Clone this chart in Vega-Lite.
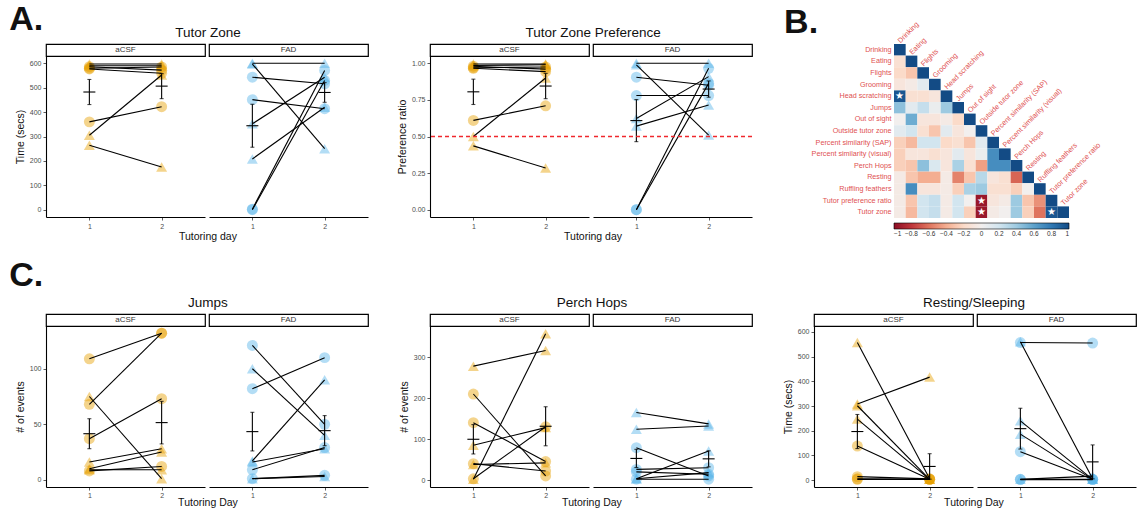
{
  "$schema": "https://vega.github.io/schema/vega-lite/v6.json",
  "padding": {"left": 9, "top": 2, "right": 0, "bottom": 0},
  "config": {
    "font": "Liberation Sans",
    "view": {"stroke": null},
    "axis": {"grid": false, "domainColor": "#000000", "domainWidth": 1.1, "tickColor": "#333333", "tickSize": 3, "tickWidth": 0.8, "labelFontSize": 7, "labelColor": "#4D4D4D", "labelPadding": 2, "titleFontSize": 10.5, "titleFontWeight": "normal", "titleColor": "#111111", "titlePadding": 4},
    "title": {"fontSize": 13.5, "fontWeight": "normal", "color": "#111111", "offset": 0},
    "rule": {"color": "#F0282D"}
  },
  "resolve": {"scale": {"color": "independent", "shape": "independent"}},
  "spacing": 15,
  "datasets": {
    "beh": [
      {"m":"TZ","g":"aCSF","s":"A1","k":"b","d":1,"v":597},{"m":"TZ","g":"aCSF","s":"A1","k":"b","d":2,"v":597},
      {"m":"TZ","g":"aCSF","s":"A2","k":"a","d":1,"v":586},{"m":"TZ","g":"aCSF","s":"A2","k":"a","d":2,"v":572},
      {"m":"TZ","g":"aCSF","s":"A3","k":"a","d":1,"v":577},{"m":"TZ","g":"aCSF","s":"A3","k":"a","d":2,"v":559},
      {"m":"TZ","g":"aCSF","s":"A4","k":"a","d":1,"v":360},{"m":"TZ","g":"aCSF","s":"A4","k":"a","d":2,"v":422},
      {"m":"TZ","g":"aCSF","s":"A5","k":"b","d":1,"v":305},{"m":"TZ","g":"aCSF","s":"A5","k":"b","d":2,"v":552},
      {"m":"TZ","g":"aCSF","s":"A6","k":"b","d":1,"v":264},{"m":"TZ","g":"aCSF","s":"A6","k":"b","d":2,"v":175},
      {"m":"TZ","g":"aCSF","s":"A7","k":"b","d":1,"v":590},{"m":"TZ","g":"aCSF","s":"A7","k":"b","d":2,"v":590},
      {"m":"TZ","g":"aCSF","s":"A8","k":"a","d":1,"v":580},{"m":"TZ","g":"aCSF","s":"A8","k":"a","d":2,"v":585},
      {"m":"TZ","g":"FAD","s":"F1","k":"b","d":1,"v":600},{"m":"TZ","g":"FAD","s":"F1","k":"b","d":2,"v":600},
      {"m":"TZ","g":"FAD","s":"F2","k":"b","d":1,"v":597},{"m":"TZ","g":"FAD","s":"F2","k":"b","d":2,"v":250},
      {"m":"TZ","g":"FAD","s":"F3","k":"a","d":1,"v":543},{"m":"TZ","g":"FAD","s":"F3","k":"a","d":2,"v":516},
      {"m":"TZ","g":"FAD","s":"F4","k":"a","d":1,"v":451},{"m":"TZ","g":"FAD","s":"F4","k":"a","d":2,"v":414},
      {"m":"TZ","g":"FAD","s":"F5","k":"b","d":1,"v":208},{"m":"TZ","g":"FAD","s":"F5","k":"b","d":2,"v":420},
      {"m":"TZ","g":"FAD","s":"F6","k":"a","d":1,"v":2},{"m":"TZ","g":"FAD","s":"F6","k":"a","d":2,"v":571},
      {"m":"TZ","g":"FAD","s":"F7","k":"a","d":1,"v":0},{"m":"TZ","g":"FAD","s":"F7","k":"a","d":2,"v":530},
      {"m":"TZ","g":"FAD","s":"F8","k":"b","d":1,"v":352},{"m":"TZ","g":"FAD","s":"F8","k":"b","d":2,"v":543},
      {"m":"PR","g":"aCSF","s":"A1","k":"b","d":1,"v":0.995},{"m":"PR","g":"aCSF","s":"A1","k":"b","d":2,"v":0.995},
      {"m":"PR","g":"aCSF","s":"A2","k":"a","d":1,"v":0.98},{"m":"PR","g":"aCSF","s":"A2","k":"a","d":2,"v":0.96},
      {"m":"PR","g":"aCSF","s":"A3","k":"a","d":1,"v":0.966},{"m":"PR","g":"aCSF","s":"A3","k":"a","d":2,"v":0.943},
      {"m":"PR","g":"aCSF","s":"A4","k":"a","d":1,"v":0.61},{"m":"PR","g":"aCSF","s":"A4","k":"a","d":2,"v":0.71},
      {"m":"PR","g":"aCSF","s":"A5","k":"b","d":1,"v":0.5},{"m":"PR","g":"aCSF","s":"A5","k":"b","d":2,"v":0.9},
      {"m":"PR","g":"aCSF","s":"A6","k":"b","d":1,"v":0.436},{"m":"PR","g":"aCSF","s":"A6","k":"b","d":2,"v":0.285},
      {"m":"PR","g":"aCSF","s":"A7","k":"b","d":1,"v":0.985},{"m":"PR","g":"aCSF","s":"A7","k":"b","d":2,"v":0.99},
      {"m":"PR","g":"aCSF","s":"A8","k":"a","d":1,"v":0.97},{"m":"PR","g":"aCSF","s":"A8","k":"a","d":2,"v":0.975},
      {"m":"PR","g":"FAD","s":"F1","k":"b","d":1,"v":1.0},{"m":"PR","g":"FAD","s":"F1","k":"b","d":2,"v":1.0},
      {"m":"PR","g":"FAD","s":"F2","k":"b","d":1,"v":0.99},{"m":"PR","g":"FAD","s":"F2","k":"b","d":2,"v":0.51},
      {"m":"PR","g":"FAD","s":"F3","k":"a","d":1,"v":0.905},{"m":"PR","g":"FAD","s":"F3","k":"a","d":2,"v":0.85},
      {"m":"PR","g":"FAD","s":"F4","k":"a","d":1,"v":0.78},{"m":"PR","g":"FAD","s":"F4","k":"a","d":2,"v":0.78},
      {"m":"PR","g":"FAD","s":"F5","k":"b","d":1,"v":0.571},{"m":"PR","g":"FAD","s":"F5","k":"b","d":2,"v":0.715},
      {"m":"PR","g":"FAD","s":"F6","k":"a","d":1,"v":0.0},{"m":"PR","g":"FAD","s":"F6","k":"a","d":2,"v":0.966},
      {"m":"PR","g":"FAD","s":"F7","k":"a","d":1,"v":0.0},{"m":"PR","g":"FAD","s":"F7","k":"a","d":2,"v":0.863},
      {"m":"PR","g":"FAD","s":"F8","k":"b","d":1,"v":0.623},{"m":"PR","g":"FAD","s":"F8","k":"b","d":2,"v":0.909},
      {"m":"JU","g":"aCSF","s":"A1","k":"a","d":1,"v":109},{"m":"JU","g":"aCSF","s":"A1","k":"a","d":2,"v":132},
      {"m":"JU","g":"aCSF","s":"A2","k":"b","d":1,"v":75},{"m":"JU","g":"aCSF","s":"A2","k":"b","d":2,"v":1},
      {"m":"JU","g":"aCSF","s":"A3","k":"a","d":1,"v":68},{"m":"JU","g":"aCSF","s":"A3","k":"a","d":2,"v":132},
      {"m":"JU","g":"aCSF","s":"A4","k":"a","d":1,"v":37},{"m":"JU","g":"aCSF","s":"A4","k":"a","d":2,"v":73},
      {"m":"JU","g":"aCSF","s":"A5","k":"b","d":1,"v":16},{"m":"JU","g":"aCSF","s":"A5","k":"b","d":2,"v":28},
      {"m":"JU","g":"aCSF","s":"A6","k":"b","d":1,"v":10},{"m":"JU","g":"aCSF","s":"A6","k":"b","d":2,"v":25},
      {"m":"JU","g":"aCSF","s":"A7","k":"a","d":1,"v":8},{"m":"JU","g":"aCSF","s":"A7","k":"a","d":2,"v":12},
      {"m":"JU","g":"aCSF","s":"A8","k":"b","d":1,"v":9},{"m":"JU","g":"aCSF","s":"A8","k":"b","d":2,"v":9},
      {"m":"JU","g":"FAD","s":"F1","k":"a","d":1,"v":121},{"m":"JU","g":"FAD","s":"F1","k":"a","d":2,"v":50},
      {"m":"JU","g":"FAD","s":"F2","k":"b","d":1,"v":100},{"m":"JU","g":"FAD","s":"F2","k":"b","d":2,"v":40},
      {"m":"JU","g":"FAD","s":"F3","k":"a","d":1,"v":82},{"m":"JU","g":"FAD","s":"F3","k":"a","d":2,"v":110},
      {"m":"JU","g":"FAD","s":"F4","k":"b","d":1,"v":17},{"m":"JU","g":"FAD","s":"F4","k":"b","d":2,"v":90},
      {"m":"JU","g":"FAD","s":"F5","k":"a","d":1,"v":9},{"m":"JU","g":"FAD","s":"F5","k":"a","d":2,"v":29},
      {"m":"JU","g":"FAD","s":"F6","k":"b","d":1,"v":16},{"m":"JU","g":"FAD","s":"F6","k":"b","d":2,"v":28},
      {"m":"JU","g":"FAD","s":"F7","k":"a","d":1,"v":1},{"m":"JU","g":"FAD","s":"F7","k":"a","d":2,"v":4},
      {"m":"JU","g":"FAD","s":"F8","k":"b","d":1,"v":1},{"m":"JU","g":"FAD","s":"F8","k":"b","d":2,"v":3},
      {"m":"PH","g":"aCSF","s":"A1","k":"b","d":1,"v":278},{"m":"PH","g":"aCSF","s":"A1","k":"b","d":2,"v":316},
      {"m":"PH","g":"aCSF","s":"A2","k":"a","d":1,"v":210},{"m":"PH","g":"aCSF","s":"A2","k":"a","d":2,"v":10},
      {"m":"PH","g":"aCSF","s":"A3","k":"b","d":1,"v":2},{"m":"PH","g":"aCSF","s":"A3","k":"b","d":2,"v":357},
      {"m":"PH","g":"aCSF","s":"A4","k":"b","d":1,"v":85},{"m":"PH","g":"aCSF","s":"A4","k":"b","d":2,"v":128},
      {"m":"PH","g":"aCSF","s":"A5","k":"a","d":1,"v":140},{"m":"PH","g":"aCSF","s":"A5","k":"a","d":2,"v":45},
      {"m":"PH","g":"aCSF","s":"A6","k":"a","d":1,"v":40},{"m":"PH","g":"aCSF","s":"A6","k":"a","d":2,"v":22},
      {"m":"PH","g":"aCSF","s":"A7","k":"a","d":1,"v":3},{"m":"PH","g":"aCSF","s":"A7","k":"a","d":2,"v":130},
      {"m":"PH","g":"aCSF","s":"A8","k":"b","d":1,"v":38},{"m":"PH","g":"aCSF","s":"A8","k":"b","d":2,"v":42},
      {"m":"PH","g":"FAD","s":"F1","k":"b","d":1,"v":165},{"m":"PH","g":"FAD","s":"F1","k":"b","d":2,"v":137},
      {"m":"PH","g":"FAD","s":"F2","k":"b","d":1,"v":124},{"m":"PH","g":"FAD","s":"F2","k":"b","d":2,"v":132},
      {"m":"PH","g":"FAD","s":"F3","k":"a","d":1,"v":79},{"m":"PH","g":"FAD","s":"F3","k":"a","d":2,"v":10},
      {"m":"PH","g":"FAD","s":"F4","k":"b","d":1,"v":3},{"m":"PH","g":"FAD","s":"F4","k":"b","d":2,"v":71},
      {"m":"PH","g":"FAD","s":"F5","k":"a","d":1,"v":26},{"m":"PH","g":"FAD","s":"F5","k":"a","d":2,"v":30},
      {"m":"PH","g":"FAD","s":"F6","k":"a","d":1,"v":20},{"m":"PH","g":"FAD","s":"F6","k":"a","d":2,"v":14},
      {"m":"PH","g":"FAD","s":"F7","k":"a","d":1,"v":2},{"m":"PH","g":"FAD","s":"F7","k":"a","d":2,"v":2},
      {"m":"PH","g":"FAD","s":"F8","k":"b","d":1,"v":3},{"m":"PH","g":"FAD","s":"F8","k":"b","d":2,"v":18},
      {"m":"RS","g":"aCSF","s":"A1","k":"b","d":1,"v":557},{"m":"RS","g":"aCSF","s":"A1","k":"b","d":2,"v":5},
      {"m":"RS","g":"aCSF","s":"A2","k":"b","d":1,"v":308},{"m":"RS","g":"aCSF","s":"A2","k":"b","d":2,"v":417},
      {"m":"RS","g":"aCSF","s":"A3","k":"b","d":1,"v":301},{"m":"RS","g":"aCSF","s":"A3","k":"b","d":2,"v":3},
      {"m":"RS","g":"aCSF","s":"A4","k":"b","d":1,"v":247},{"m":"RS","g":"aCSF","s":"A4","k":"b","d":2,"v":3},
      {"m":"RS","g":"aCSF","s":"A5","k":"a","d":1,"v":138},{"m":"RS","g":"aCSF","s":"A5","k":"a","d":2,"v":3},
      {"m":"RS","g":"aCSF","s":"A6","k":"a","d":1,"v":14},{"m":"RS","g":"aCSF","s":"A6","k":"a","d":2,"v":5},
      {"m":"RS","g":"aCSF","s":"A7","k":"a","d":1,"v":5},{"m":"RS","g":"aCSF","s":"A7","k":"a","d":2,"v":3},
      {"m":"RS","g":"aCSF","s":"A8","k":"a","d":1,"v":3},{"m":"RS","g":"aCSF","s":"A8","k":"a","d":2,"v":3},
      {"m":"RS","g":"FAD","s":"F1","k":"a","d":1,"v":557},{"m":"RS","g":"FAD","s":"F1","k":"a","d":2,"v":555},
      {"m":"RS","g":"FAD","s":"F2","k":"b","d":1,"v":560},{"m":"RS","g":"FAD","s":"F2","k":"b","d":2,"v":5},
      {"m":"RS","g":"FAD","s":"F3","k":"b","d":1,"v":240},{"m":"RS","g":"FAD","s":"F3","k":"b","d":2,"v":3},
      {"m":"RS","g":"FAD","s":"F4","k":"b","d":1,"v":186},{"m":"RS","g":"FAD","s":"F4","k":"b","d":2,"v":3},
      {"m":"RS","g":"FAD","s":"F5","k":"a","d":1,"v":115},{"m":"RS","g":"FAD","s":"F5","k":"a","d":2,"v":3},
      {"m":"RS","g":"FAD","s":"F6","k":"b","d":1,"v":3},{"m":"RS","g":"FAD","s":"F6","k":"b","d":2,"v":16},
      {"m":"RS","g":"FAD","s":"F7","k":"a","d":1,"v":3},{"m":"RS","g":"FAD","s":"F7","k":"a","d":2,"v":3},
      {"m":"RS","g":"FAD","s":"F8","k":"a","d":1,"v":2},{"m":"RS","g":"FAD","s":"F8","k":"a","d":2,"v":2}
    ],
    "corr": [
      {"r":"Drinking","c":"Drinking","v":1},
      {"r":"Eating","c":"Drinking","v":-0.15},{"r":"Eating","c":"Eating","v":1},
      {"r":"Flights","c":"Drinking","v":-0.2},{"r":"Flights","c":"Eating","v":-0.3},{"r":"Flights","c":"Flights","v":1},
      {"r":"Grooming","c":"Drinking","v":-0.1},{"r":"Grooming","c":"Eating","v":-0.05},{"r":"Grooming","c":"Flights","v":0.1},{"r":"Grooming","c":"Grooming","v":1},
      {"r":"Head scratching","c":"Drinking","v":0.95,"st":1},{"r":"Head scratching","c":"Eating","v":-0.15},{"r":"Head scratching","c":"Flights","v":-0.15},{"r":"Head scratching","c":"Grooming","v":-0.1},{"r":"Head scratching","c":"Head scratching","v":1},
      {"r":"Jumps","c":"Drinking","v":0.45},{"r":"Jumps","c":"Eating","v":0.1},{"r":"Jumps","c":"Flights","v":0.25},{"r":"Jumps","c":"Grooming","v":0.05},{"r":"Jumps","c":"Head scratching","v":0.4},{"r":"Jumps","c":"Jumps","v":1},
      {"r":"Out of sight","c":"Drinking","v":0.0},{"r":"Out of sight","c":"Eating","v":0.55},{"r":"Out of sight","c":"Flights","v":-0.1},{"r":"Out of sight","c":"Grooming","v":-0.1},{"r":"Out of sight","c":"Head scratching","v":-0.05},{"r":"Out of sight","c":"Jumps","v":-0.2},{"r":"Out of sight","c":"Out of sight","v":1},
      {"r":"Outside tutor zone","c":"Drinking","v":0.1},{"r":"Outside tutor zone","c":"Eating","v":0.2},{"r":"Outside tutor zone","c":"Flights","v":-0.15},{"r":"Outside tutor zone","c":"Grooming","v":-0.3},{"r":"Outside tutor zone","c":"Head scratching","v":0.1},{"r":"Outside tutor zone","c":"Jumps","v":-0.1},{"r":"Outside tutor zone","c":"Out of sight","v":0.0},{"r":"Outside tutor zone","c":"Outside tutor zone","v":1},
      {"r":"Percent similarity (SAP)","c":"Drinking","v":-0.25},{"r":"Percent similarity (SAP)","c":"Eating","v":-0.35},{"r":"Percent similarity (SAP)","c":"Flights","v":0.2},{"r":"Percent similarity (SAP)","c":"Grooming","v":0.2},{"r":"Percent similarity (SAP)","c":"Head scratching","v":-0.2},{"r":"Percent similarity (SAP)","c":"Jumps","v":-0.15},{"r":"Percent similarity (SAP)","c":"Out of sight","v":-0.3},{"r":"Percent similarity (SAP)","c":"Outside tutor zone","v":0.1},{"r":"Percent similarity (SAP)","c":"Percent similarity (SAP)","v":1},
      {"r":"Percent similarity (visual)","c":"Drinking","v":-0.25},{"r":"Percent similarity (visual)","c":"Eating","v":-0.1},{"r":"Percent similarity (visual)","c":"Flights","v":-0.1},{"r":"Percent similarity (visual)","c":"Grooming","v":-0.15},{"r":"Percent similarity (visual)","c":"Head scratching","v":-0.1},{"r":"Percent similarity (visual)","c":"Jumps","v":0.1},{"r":"Percent similarity (visual)","c":"Out of sight","v":-0.1},{"r":"Percent similarity (visual)","c":"Outside tutor zone","v":0.05},{"r":"Percent similarity (visual)","c":"Percent similarity (SAP)","v":0.7},{"r":"Percent similarity (visual)","c":"Percent similarity (visual)","v":1},
      {"r":"Perch Hops","c":"Drinking","v":-0.25},{"r":"Perch Hops","c":"Eating","v":-0.3},{"r":"Perch Hops","c":"Flights","v":0.45},{"r":"Perch Hops","c":"Grooming","v":0.15},{"r":"Perch Hops","c":"Head scratching","v":-0.1},{"r":"Perch Hops","c":"Jumps","v":0.35},{"r":"Perch Hops","c":"Out of sight","v":-0.15},{"r":"Perch Hops","c":"Outside tutor zone","v":-0.45},{"r":"Perch Hops","c":"Percent similarity (SAP)","v":0.7},{"r":"Perch Hops","c":"Percent similarity (visual)","v":0.7},{"r":"Perch Hops","c":"Perch Hops","v":1},
      {"r":"Resting","c":"Drinking","v":-0.05},{"r":"Resting","c":"Eating","v":-0.3},{"r":"Resting","c":"Flights","v":-0.4},{"r":"Resting","c":"Grooming","v":-0.4},{"r":"Resting","c":"Head scratching","v":-0.05},{"r":"Resting","c":"Jumps","v":-0.55},{"r":"Resting","c":"Out of sight","v":-0.3},{"r":"Resting","c":"Outside tutor zone","v":0.3},{"r":"Resting","c":"Percent similarity (SAP)","v":-0.1},{"r":"Resting","c":"Percent similarity (visual)","v":-0.15},{"r":"Resting","c":"Perch Hops","v":-0.65},{"r":"Resting","c":"Resting","v":1},
      {"r":"Ruffling feathers","c":"Drinking","v":-0.05},{"r":"Ruffling feathers","c":"Eating","v":0.7},{"r":"Ruffling feathers","c":"Flights","v":-0.1},{"r":"Ruffling feathers","c":"Grooming","v":-0.1},{"r":"Ruffling feathers","c":"Head scratching","v":-0.05},{"r":"Ruffling feathers","c":"Jumps","v":-0.25},{"r":"Ruffling feathers","c":"Out of sight","v":0.35},{"r":"Ruffling feathers","c":"Outside tutor zone","v":0.4},{"r":"Ruffling feathers","c":"Percent similarity (SAP)","v":-0.15},{"r":"Ruffling feathers","c":"Percent similarity (visual)","v":-0.15},{"r":"Ruffling feathers","c":"Perch Hops","v":-0.25},{"r":"Ruffling feathers","c":"Resting","v":0.0},{"r":"Ruffling feathers","c":"Ruffling feathers","v":1},
      {"r":"Tutor preference ratio","c":"Drinking","v":-0.05},{"r":"Tutor preference ratio","c":"Eating","v":-0.3},{"r":"Tutor preference ratio","c":"Flights","v":0.2},{"r":"Tutor preference ratio","c":"Grooming","v":0.25},{"r":"Tutor preference ratio","c":"Head scratching","v":-0.05},{"r":"Tutor preference ratio","c":"Jumps","v":0.2},{"r":"Tutor preference ratio","c":"Out of sight","v":0.0},{"r":"Tutor preference ratio","c":"Outside tutor zone","v":-0.95,"st":1},{"r":"Tutor preference ratio","c":"Percent similarity (SAP)","v":-0.1},{"r":"Tutor preference ratio","c":"Percent similarity (visual)","v":-0.05},{"r":"Tutor preference ratio","c":"Perch Hops","v":0.4},{"r":"Tutor preference ratio","c":"Resting","v":-0.3},{"r":"Tutor preference ratio","c":"Ruffling feathers","v":-0.5},{"r":"Tutor preference ratio","c":"Tutor preference ratio","v":1},
      {"r":"Tutor zone","c":"Drinking","v":-0.05},{"r":"Tutor zone","c":"Eating","v":-0.35},{"r":"Tutor zone","c":"Flights","v":0.2},{"r":"Tutor zone","c":"Grooming","v":0.25},{"r":"Tutor zone","c":"Head scratching","v":-0.05},{"r":"Tutor zone","c":"Jumps","v":0.2},{"r":"Tutor zone","c":"Out of sight","v":-0.25},{"r":"Tutor zone","c":"Outside tutor zone","v":-0.95,"st":1},{"r":"Tutor zone","c":"Percent similarity (SAP)","v":-0.05},{"r":"Tutor zone","c":"Percent similarity (visual)","v":0.0},{"r":"Tutor zone","c":"Perch Hops","v":0.4},{"r":"Tutor zone","c":"Resting","v":-0.25},{"r":"Tutor zone","c":"Ruffling feathers","v":-0.6},{"r":"Tutor zone","c":"Tutor preference ratio","v":0.95,"st":1},{"r":"Tutor zone","c":"Tutor zone","v":1}
    ]
  },
  "vconcat": [
    {
      "resolve": {"scale": {"color": "independent", "shape": "independent"}},
      "spacing": 31,
      "hconcat": [
        {
          "title": {"text": "A.", "anchor": "start", "fontSize": 34, "fontWeight": "bold", "color": "#111111", "offset": -11, "dx": -6},
          "spacing": 28,
          "hconcat": [
            {
              "title": {"text": "Tutor Zone", "anchor": "middle", "dx": 16},
              "vconcat": [{
                "title": {"text": "Tutoring day", "orient": "bottom", "anchor": "middle", "dx": 16, "fontSize": 10.5, "offset": 3},
                "spacing": 2,
                "hconcat": [
                  {"bounds": "flush", "spacing": 0, "vconcat": [
                    {"width": 159, "height": 12, "view": {"stroke": "black", "strokeWidth": 1.2}, "data": {"values": [{"g": "aCSF"}]}, "mark": {"type": "text", "fontSize": 8, "color": "#333333"}, "encoding": {"text": {"field": "g"}}},
                    {"width": 159, "height": 161, "data": {"name": "beh"}, "transform": [{"filter": "datum.m==='TZ'&&datum.g==='aCSF'"}],
                     "encoding": {"x": {"field": "d", "type": "ordinal", "scale": {"type": "point", "padding": 0.6}, "axis": {"title": null, "labelAngle": 0}},
                                  "y": {"field": "v", "type": "quantitative", "scale": {"domain": [-30, 630], "nice": false, "zero": false}, "axis": {"title": "Time (secs)", "values": [0,100,200,300,400,500,600]}}},
                     "layer": [
                       {"mark": {"type": "point", "filled": true, "size": 120, "opacity": 0.45, "color": "#E69F00"}, "encoding": {"shape": {"field": "k", "type": "nominal", "scale": {"domain": ["a","b"], "range": ["circle","triangle-up"]}, "legend": null}}},
                       {"mark": {"type": "line", "color": "black", "strokeWidth": 1.1}, "encoding": {"detail": {"field": "s", "type": "nominal"}}},
                       {"mark": {"type": "errorbar", "extent": "stderr", "color": "black", "thickness": 1.1, "ticks": {"size": 4}}},
                       {"mark": {"type": "tick", "color": "black", "thickness": 1.1, "size": 12}, "encoding": {"y": {"aggregate": "mean", "field": "v", "type": "quantitative", "axis": {"title": "Time (secs)", "values": [0,100,200,300,400,500,600]}}}}
                     ]}
                  ]},
                  {"bounds": "flush", "spacing": 0, "vconcat": [
                    {"width": 159, "height": 12, "view": {"stroke": "black", "strokeWidth": 1.2}, "data": {"values": [{"g": "FAD"}]}, "mark": {"type": "text", "fontSize": 8, "color": "#333333"}, "encoding": {"text": {"field": "g"}}},
                    {"width": 159, "height": 161, "data": {"name": "beh"}, "transform": [{"filter": "datum.m==='TZ'&&datum.g==='FAD'"}],
                     "encoding": {"x": {"field": "d", "type": "ordinal", "scale": {"type": "point", "padding": 0.6}, "axis": {"title": null, "labelAngle": 0}},
                                  "y": {"field": "v", "type": "quantitative", "scale": {"domain": [-30, 630], "nice": false, "zero": false}, "axis": null}},
                     "layer": [
                       {"mark": {"type": "point", "filled": true, "size": 120, "opacity": 0.45, "color": "#56B4E9"}, "encoding": {"shape": {"field": "k", "type": "nominal", "scale": {"domain": ["a","b"], "range": ["circle","triangle-up"]}, "legend": null}}},
                       {"mark": {"type": "line", "color": "black", "strokeWidth": 1.1}, "encoding": {"detail": {"field": "s", "type": "nominal"}}},
                       {"mark": {"type": "errorbar", "extent": "stderr", "color": "black", "thickness": 1.1, "ticks": {"size": 4}}},
                       {"mark": {"type": "tick", "color": "black", "thickness": 1.1, "size": 12}, "encoding": {"y": {"aggregate": "mean", "field": "v", "type": "quantitative", "axis": null}}}
                     ]}
                  ]}
                ]
              }]
            },
            {
              "title": {"text": "Tutor Zone Preference", "anchor": "middle", "dx": 18},
              "vconcat": [{
                "title": {"text": "Tutoring day", "orient": "bottom", "anchor": "middle", "dx": 18, "fontSize": 10.5, "offset": 3},
                "spacing": 2,
                "hconcat": [
                  {"bounds": "flush", "spacing": 0, "vconcat": [
                    {"width": 159, "height": 12, "view": {"stroke": "black", "strokeWidth": 1.2}, "data": {"values": [{"g": "aCSF"}]}, "mark": {"type": "text", "fontSize": 8, "color": "#333333"}, "encoding": {"text": {"field": "g"}}},
                    {"width": 159, "height": 161,
                     "layer": [
                       {"data": {"name": "beh"}, "transform": [{"filter": "datum.m==='PR'&&datum.g==='aCSF'"}],
                        "encoding": {"x": {"field": "d", "type": "ordinal", "scale": {"type": "point", "padding": 0.6}, "axis": {"title": null, "labelAngle": 0}},
                                     "y": {"field": "v", "type": "quantitative", "scale": {"domain": [-0.05, 1.05], "nice": false, "zero": false}, "axis": {"title": "Preference ratio", "values": [0,0.25,0.5,0.75,1], "format": ".2f"}}},
                        "layer": [
                          {"mark": {"type": "point", "filled": true, "size": 120, "opacity": 0.45, "color": "#E69F00"}, "encoding": {"shape": {"field": "k", "type": "nominal", "scale": {"domain": ["a","b"], "range": ["circle","triangle-up"]}, "legend": null}}},
                          {"mark": {"type": "line", "color": "black", "strokeWidth": 1.1}, "encoding": {"detail": {"field": "s", "type": "nominal"}}},
                          {"mark": {"type": "errorbar", "extent": "stderr", "color": "black", "thickness": 1.1, "ticks": {"size": 4}}},
                          {"mark": {"type": "tick", "color": "black", "thickness": 1.1, "size": 12}, "encoding": {"y": {"aggregate": "mean", "field": "v", "type": "quantitative", "axis": {"title": "Preference ratio", "values": [0,0.25,0.5,0.75,1], "format": ".2f"}}}}
                        ]},
                       {"data": {"values": [{"ref": 0.5}]}, "mark": {"type": "rule", "strokeDash": [4, 3], "strokeWidth": 1.4, "stroke": "#F0282D", "strokeOpacity": 1}, "encoding": {"y": {"field": "ref", "type": "quantitative", "scale": {"domain": [-0.05, 1.05], "nice": false, "zero": false}, "axis": {"title": "Preference ratio", "values": [0,0.25,0.5,0.75,1], "format": ".2f"}}}}
                     ]}
                  ]},
                  {"bounds": "flush", "spacing": 0, "vconcat": [
                    {"width": 159, "height": 12, "view": {"stroke": "black", "strokeWidth": 1.2}, "data": {"values": [{"g": "FAD"}]}, "mark": {"type": "text", "fontSize": 8, "color": "#333333"}, "encoding": {"text": {"field": "g"}}},
                    {"width": 159, "height": 161,
                     "layer": [
                       {"data": {"name": "beh"}, "transform": [{"filter": "datum.m==='PR'&&datum.g==='FAD'"}],
                        "encoding": {"x": {"field": "d", "type": "ordinal", "scale": {"type": "point", "padding": 0.6}, "axis": {"title": null, "labelAngle": 0}},
                                     "y": {"field": "v", "type": "quantitative", "scale": {"domain": [-0.05, 1.05], "nice": false, "zero": false}, "axis": null}},
                        "layer": [
                          {"mark": {"type": "point", "filled": true, "size": 120, "opacity": 0.45, "color": "#56B4E9"}, "encoding": {"shape": {"field": "k", "type": "nominal", "scale": {"domain": ["a","b"], "range": ["circle","triangle-up"]}, "legend": null}}},
                          {"mark": {"type": "line", "color": "black", "strokeWidth": 1.1}, "encoding": {"detail": {"field": "s", "type": "nominal"}}},
                          {"mark": {"type": "errorbar", "extent": "stderr", "color": "black", "thickness": 1.1, "ticks": {"size": 4}}},
                          {"mark": {"type": "tick", "color": "black", "thickness": 1.1, "size": 12}, "encoding": {"y": {"aggregate": "mean", "field": "v", "type": "quantitative", "axis": null}}}
                        ]},
                       {"data": {"values": [{"ref": 0.5}]}, "mark": {"type": "rule", "strokeDash": [4, 3], "strokeWidth": 1.4, "stroke": "#F0282D", "strokeOpacity": 1}, "encoding": {"y": {"field": "ref", "type": "quantitative", "scale": {"domain": [-0.05, 1.05], "nice": false, "zero": false}, "axis": null}}}
                     ]}
                  ]}
                ]
              }]
            }
          ]
        },
        {
          "title": {"text": "B.", "anchor": "start", "fontSize": 34, "fontWeight": "bold", "color": "#111111", "offset": -19, "dx": -27},
          "width": 175, "height": 174,
          "data": {"name": "corr"},
          "encoding": {
            "x": {"field": "c", "type": "ordinal", "scale": {"domain": ["Drinking","Eating","Flights","Grooming","Head scratching","Jumps","Out of sight","Outside tutor zone","Percent similarity (SAP)","Percent similarity (visual)","Perch Hops","Resting","Ruffling feathers","Tutor preference ratio","Tutor zone"], "paddingInner": 0, "paddingOuter": 0}, "axis": null},
            "y": {"field": "r", "type": "ordinal", "scale": {"domain": ["Drinking","Eating","Flights","Grooming","Head scratching","Jumps","Out of sight","Outside tutor zone","Percent similarity (SAP)","Percent similarity (visual)","Perch Hops","Resting","Ruffling feathers","Tutor preference ratio","Tutor zone"], "paddingInner": 0, "paddingOuter": 0}, "axis": {"title": null, "ticks": false, "domain": false, "labelColor": "#E05050", "labelFontSize": 7.2, "labelPadding": 3}}
          },
          "layer": [
            {"mark": {"type": "rect"}, "encoding": {"color": {"field": "v", "type": "quantitative", "scale": {"scheme": "redblue", "domain": [-1, 1]},
              "legend": {"orient": "bottom", "direction": "horizontal", "title": null, "gradientLength": 175, "gradientThickness": 6, "values": [-1,-0.8,-0.6,-0.4,-0.2,0,0.2,0.4,0.6,0.8,1], "format": "~g", "labelFontSize": 6.5, "labelColor": "#333333", "labelOverlap": false, "offset": 5, "gradientStrokeColor": "black", "gradientStrokeWidth": 0.6}}}},
            {"transform": [{"filter": "datum.st===1"}], "mark": {"type": "text", "text": "★", "color": "white", "fontSize": 10, "baseline": "middle"}},
            {"transform": [{"filter": "datum.r===datum.c"}], "mark": {"type": "text", "angle": 315, "align": "left", "baseline": "middle", "dx": 5, "dy": -6, "color": "#E05050", "fontSize": 7.2}, "encoding": {"text": {"field": "c"}}}
          ]
        }
      ]
    },
    {
      "title": {"text": "C.", "anchor": "start", "fontSize": 34, "fontWeight": "bold", "color": "#111111", "offset": 3, "dx": -6},
      "spacing": 30,
      "hconcat": [
        {
          "title": {"text": "Jumps", "anchor": "middle", "dx": 16},
          "vconcat": [{
            "title": {"text": "Tutoring Day", "orient": "bottom", "anchor": "middle", "dx": 16, "fontSize": 10.5, "offset": 0},
            "spacing": 2,
            "hconcat": [
              {"bounds": "flush", "spacing": 0, "vconcat": [
                {"width": 159, "height": 12, "view": {"stroke": "black", "strokeWidth": 1.2}, "data": {"values": [{"g": "aCSF"}]}, "mark": {"type": "text", "fontSize": 8, "color": "#333333"}, "encoding": {"text": {"field": "g"}}},
                {"width": 159, "height": 161, "data": {"name": "beh"}, "transform": [{"filter": "datum.m==='JU'&&datum.g==='aCSF'"}],
                 "encoding": {"x": {"field": "d", "type": "ordinal", "scale": {"type": "point", "padding": 0.6}, "axis": {"title": null, "labelAngle": 0, "labelPadding": 1}},
                              "y": {"field": "v", "type": "quantitative", "scale": {"domain": [-6.5, 138.5], "nice": false, "zero": false}, "axis": {"title": "# of events", "values": [0,50,100]}}},
                 "layer": [
                   {"mark": {"type": "point", "filled": true, "size": 120, "opacity": 0.45, "color": "#E69F00"}, "encoding": {"shape": {"field": "k", "type": "nominal", "scale": {"domain": ["a","b"], "range": ["circle","triangle-up"]}, "legend": null}}},
                   {"mark": {"type": "line", "color": "black", "strokeWidth": 1.1}, "encoding": {"detail": {"field": "s", "type": "nominal"}}},
                   {"mark": {"type": "errorbar", "extent": "stderr", "color": "black", "thickness": 1.1, "ticks": {"size": 4}}},
                   {"mark": {"type": "tick", "color": "black", "thickness": 1.1, "size": 12}, "encoding": {"y": {"aggregate": "mean", "field": "v", "type": "quantitative", "axis": {"title": "# of events", "values": [0,50,100]}}}}
                 ]}
              ]},
              {"bounds": "flush", "spacing": 0, "vconcat": [
                {"width": 159, "height": 12, "view": {"stroke": "black", "strokeWidth": 1.2}, "data": {"values": [{"g": "FAD"}]}, "mark": {"type": "text", "fontSize": 8, "color": "#333333"}, "encoding": {"text": {"field": "g"}}},
                {"width": 159, "height": 161, "data": {"name": "beh"}, "transform": [{"filter": "datum.m==='JU'&&datum.g==='FAD'"}],
                 "encoding": {"x": {"field": "d", "type": "ordinal", "scale": {"type": "point", "padding": 0.6}, "axis": {"title": null, "labelAngle": 0, "labelPadding": 1}},
                              "y": {"field": "v", "type": "quantitative", "scale": {"domain": [-6.5, 138.5], "nice": false, "zero": false}, "axis": null}},
                 "layer": [
                   {"mark": {"type": "point", "filled": true, "size": 120, "opacity": 0.45, "color": "#56B4E9"}, "encoding": {"shape": {"field": "k", "type": "nominal", "scale": {"domain": ["a","b"], "range": ["circle","triangle-up"]}, "legend": null}}},
                   {"mark": {"type": "line", "color": "black", "strokeWidth": 1.1}, "encoding": {"detail": {"field": "s", "type": "nominal"}}},
                   {"mark": {"type": "errorbar", "extent": "stderr", "color": "black", "thickness": 1.1, "ticks": {"size": 4}}},
                   {"mark": {"type": "tick", "color": "black", "thickness": 1.1, "size": 12}, "encoding": {"y": {"aggregate": "mean", "field": "v", "type": "quantitative", "axis": null}}}
                 ]}
              ]}
            ]
          }]
        },
        {
          "title": {"text": "Perch Hops", "anchor": "middle", "dx": 16},
          "vconcat": [{
            "title": {"text": "Tutoring Day", "orient": "bottom", "anchor": "middle", "dx": 16, "fontSize": 10.5, "offset": 0},
            "spacing": 2,
            "hconcat": [
              {"bounds": "flush", "spacing": 0, "vconcat": [
                {"width": 159, "height": 12, "view": {"stroke": "black", "strokeWidth": 1.2}, "data": {"values": [{"g": "aCSF"}]}, "mark": {"type": "text", "fontSize": 8, "color": "#333333"}, "encoding": {"text": {"field": "g"}}},
                {"width": 159, "height": 161, "data": {"name": "beh"}, "transform": [{"filter": "datum.m==='PH'&&datum.g==='aCSF'"}],
                 "encoding": {"x": {"field": "d", "type": "ordinal", "scale": {"type": "point", "padding": 0.6}, "axis": {"title": null, "labelAngle": 0, "labelPadding": 1}},
                              "y": {"field": "v", "type": "quantitative", "scale": {"domain": [-17, 376], "nice": false, "zero": false}, "axis": {"title": "# of events", "values": [0,100,200,300]}}},
                 "layer": [
                   {"mark": {"type": "point", "filled": true, "size": 120, "opacity": 0.45, "color": "#E69F00"}, "encoding": {"shape": {"field": "k", "type": "nominal", "scale": {"domain": ["a","b"], "range": ["circle","triangle-up"]}, "legend": null}}},
                   {"mark": {"type": "line", "color": "black", "strokeWidth": 1.1}, "encoding": {"detail": {"field": "s", "type": "nominal"}}},
                   {"mark": {"type": "errorbar", "extent": "stderr", "color": "black", "thickness": 1.1, "ticks": {"size": 4}}},
                   {"mark": {"type": "tick", "color": "black", "thickness": 1.1, "size": 12}, "encoding": {"y": {"aggregate": "mean", "field": "v", "type": "quantitative", "axis": {"title": "# of events", "values": [0,100,200,300]}}}}
                 ]}
              ]},
              {"bounds": "flush", "spacing": 0, "vconcat": [
                {"width": 159, "height": 12, "view": {"stroke": "black", "strokeWidth": 1.2}, "data": {"values": [{"g": "FAD"}]}, "mark": {"type": "text", "fontSize": 8, "color": "#333333"}, "encoding": {"text": {"field": "g"}}},
                {"width": 159, "height": 161, "data": {"name": "beh"}, "transform": [{"filter": "datum.m==='PH'&&datum.g==='FAD'"}],
                 "encoding": {"x": {"field": "d", "type": "ordinal", "scale": {"type": "point", "padding": 0.6}, "axis": {"title": null, "labelAngle": 0, "labelPadding": 1}},
                              "y": {"field": "v", "type": "quantitative", "scale": {"domain": [-17, 376], "nice": false, "zero": false}, "axis": null}},
                 "layer": [
                   {"mark": {"type": "point", "filled": true, "size": 120, "opacity": 0.45, "color": "#56B4E9"}, "encoding": {"shape": {"field": "k", "type": "nominal", "scale": {"domain": ["a","b"], "range": ["circle","triangle-up"]}, "legend": null}}},
                   {"mark": {"type": "line", "color": "black", "strokeWidth": 1.1}, "encoding": {"detail": {"field": "s", "type": "nominal"}}},
                   {"mark": {"type": "errorbar", "extent": "stderr", "color": "black", "thickness": 1.1, "ticks": {"size": 4}}},
                   {"mark": {"type": "tick", "color": "black", "thickness": 1.1, "size": 12}, "encoding": {"y": {"aggregate": "mean", "field": "v", "type": "quantitative", "axis": null}}}
                 ]}
              ]}
            ]
          }]
        },
        {
          "title": {"text": "Resting/Sleeping", "anchor": "middle", "dx": 14},
          "vconcat": [{
            "title": {"text": "Tutoring Day", "orient": "bottom", "anchor": "middle", "dx": 14, "fontSize": 10.5, "offset": 0},
            "spacing": 2,
            "hconcat": [
              {"bounds": "flush", "spacing": 0, "vconcat": [
                {"width": 159, "height": 12, "view": {"stroke": "black", "strokeWidth": 1.2}, "data": {"values": [{"g": "aCSF"}]}, "mark": {"type": "text", "fontSize": 8, "color": "#333333"}, "encoding": {"text": {"field": "g"}}},
                {"width": 159, "height": 161, "data": {"name": "beh"}, "transform": [{"filter": "datum.m==='RS'&&datum.g==='aCSF'"}],
                 "encoding": {"x": {"field": "d", "type": "ordinal", "scale": {"type": "point", "padding": 0.6}, "axis": {"title": null, "labelAngle": 0, "labelPadding": 1}},
                              "y": {"field": "v", "type": "quantitative", "scale": {"domain": [-28, 624], "nice": false, "zero": false}, "axis": {"title": "Time (secs)", "values": [0,100,200,300,400,500,600]}}},
                 "layer": [
                   {"mark": {"type": "point", "filled": true, "size": 120, "opacity": 0.45, "color": "#E69F00"}, "encoding": {"shape": {"field": "k", "type": "nominal", "scale": {"domain": ["a","b"], "range": ["circle","triangle-up"]}, "legend": null}}},
                   {"mark": {"type": "line", "color": "black", "strokeWidth": 1.1}, "encoding": {"detail": {"field": "s", "type": "nominal"}}},
                   {"mark": {"type": "errorbar", "extent": "stderr", "color": "black", "thickness": 1.1, "ticks": {"size": 4}}},
                   {"mark": {"type": "tick", "color": "black", "thickness": 1.1, "size": 12}, "encoding": {"y": {"aggregate": "mean", "field": "v", "type": "quantitative", "axis": {"title": "Time (secs)", "values": [0,100,200,300,400,500,600]}}}}
                 ]}
              ]},
              {"bounds": "flush", "spacing": 0, "vconcat": [
                {"width": 159, "height": 12, "view": {"stroke": "black", "strokeWidth": 1.2}, "data": {"values": [{"g": "FAD"}]}, "mark": {"type": "text", "fontSize": 8, "color": "#333333"}, "encoding": {"text": {"field": "g"}}},
                {"width": 159, "height": 161, "data": {"name": "beh"}, "transform": [{"filter": "datum.m==='RS'&&datum.g==='FAD'"}],
                 "encoding": {"x": {"field": "d", "type": "ordinal", "scale": {"type": "point", "padding": 0.6}, "axis": {"title": null, "labelAngle": 0, "labelPadding": 1}},
                              "y": {"field": "v", "type": "quantitative", "scale": {"domain": [-28, 624], "nice": false, "zero": false}, "axis": null}},
                 "layer": [
                   {"mark": {"type": "point", "filled": true, "size": 120, "opacity": 0.45, "color": "#56B4E9"}, "encoding": {"shape": {"field": "k", "type": "nominal", "scale": {"domain": ["a","b"], "range": ["circle","triangle-up"]}, "legend": null}}},
                   {"mark": {"type": "line", "color": "black", "strokeWidth": 1.1}, "encoding": {"detail": {"field": "s", "type": "nominal"}}},
                   {"mark": {"type": "errorbar", "extent": "stderr", "color": "black", "thickness": 1.1, "ticks": {"size": 4}}},
                   {"mark": {"type": "tick", "color": "black", "thickness": 1.1, "size": 12}, "encoding": {"y": {"aggregate": "mean", "field": "v", "type": "quantitative", "axis": null}}}
                 ]}
              ]}
            ]
          }]
        }
      ]
    }
  ]
}
